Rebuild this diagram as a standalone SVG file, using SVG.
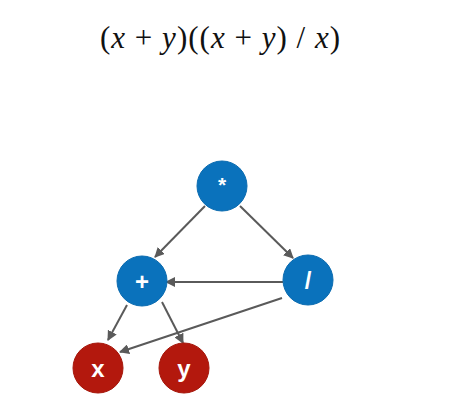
<svg xmlns="http://www.w3.org/2000/svg" width="459" height="409" viewBox="0 0 459 409">
<defs>
<marker id="ah" viewBox="0 0 10 10" refX="9" refY="5" markerWidth="10" markerHeight="10" markerUnits="userSpaceOnUse" orient="auto">
<path d="M0,0 L10,5 L0,10 z" fill="#5a5a5a"/>
</marker>
<style>
.op{fill:#0a72bc;stroke:#0a6bb0;stroke-width:1}
.var{fill:#b3180d;stroke:#a51509;stroke-width:1}
.lbl{font-family:"Liberation Sans",Arial,sans-serif;font-weight:bold;font-size:24px;fill:#ffffff;text-anchor:middle}
.edge{stroke:#5a5a5a;stroke-width:2;fill:none;marker-end:url(#ah)}
.f{font-family:"Liberation Serif","Times New Roman",serif;font-size:31px;fill:#111}
</style>
</defs>
<rect width="459" height="409" fill="#ffffff"/>
<text class="f" x="100" y="48" textLength="240" lengthAdjust="spacing">(<tspan font-style="italic">x</tspan> + <tspan font-style="italic">y</tspan>)((<tspan font-style="italic">x</tspan> + <tspan font-style="italic">y</tspan>) / <tspan font-style="italic">x</tspan>)</text>
<g id="connectors">
<line class="edge" x1="205" y1="206" x2="155" y2="257"/>
<line class="edge" x1="240" y1="206" x2="293" y2="258"/>
<line class="edge" x1="283" y1="282" x2="166" y2="282"/>
<line class="edge" x1="127" y1="305" x2="108" y2="340"/>
<line class="edge" x1="162" y1="302" x2="183" y2="343"/>
<line class="edge" x1="282" y1="298" x2="120" y2="352"/>
</g>
<g id="mul"><circle class="op" cx="222" cy="186" r="25"/><text class="lbl" x="222" y="192" style="font-size:21px">*</text></g>
<g id="plus"><circle class="op" cx="142" cy="281" r="25"/><text class="lbl" x="142" y="290">+</text></g>
<g id="div"><circle class="op" cx="308" cy="280" r="25"/><text class="lbl" x="308" y="289">/</text></g>
<g id="x"><circle class="var" cx="98" cy="368" r="25"/><text class="lbl" x="98" y="377">x</text></g>
<g id="y"><circle class="var" cx="184" cy="368" r="25"/><text class="lbl" x="184" y="377">y</text></g>
</svg>
